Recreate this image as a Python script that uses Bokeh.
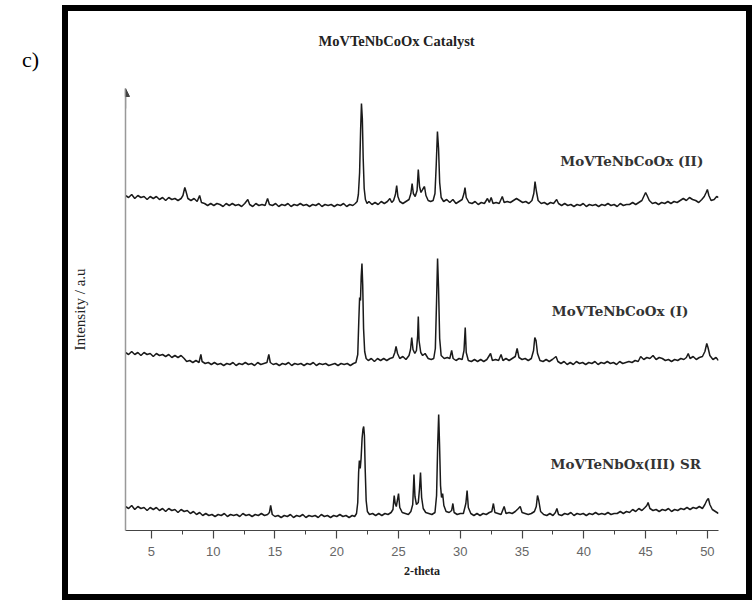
from bokeh.plotting import figure
from bokeh.models import (Label, Arrow, NormalHead, Title, Div,
                          SingleIntervalTicker, FixedTicker, Range1d)
from bokeh.layouts import row
from bokeh.embed import file_html
from bokeh.resources import INLINE

# ---------------- data (2-theta, intensity a.u.) ----------------
pattern_II = [(2.9,25),(3.15,23),(3.4,26),(3.65,22),(3.9,25),(4.15,23),(4.4,24),(4.65,21),(4.9,24),(5.15,22),
(5.4,24),(5.65,21),(5.9,23),(6.15,20),(6.4,23),(6.65,21),(6.9,22),(7.15,20),(7.4,22),(7.55,25),(7.7,33),(7.8,29),
(7.95,22),(8.2,20),(8.45,22),(8.7,19),(8.9,25),(9.05,18),(9.3,17),(9.55,15),(9.8,17),(10.05,15),(10.3,17),(10.55,16),
(10.8,14),(11.05,17),(11.3,15),(11.55,17),(11.8,15),(12.05,16),(12.3,14),(12.55,17),(12.8,21),(12.95,16),(13.2,14),
(13.45,17),(13.7,15),(13.95,16),(14.2,15),(14.4,22),(14.55,16),(14.8,15),(15.05,17),(15.3,14),(15.55,16),(15.8,15),
(16.05,17),(16.3,14),(16.55,16),(16.8,15),(17.05,17),(17.3,15),(17.55,16),(17.8,14),(18.05,16),(18.3,15),(18.55,17),
(18.8,14),(19.05,16),(19.3,15),(19.55,16),(19.8,14),(20.05,16),(20.3,15),(20.55,17),(20.8,14),(21.05,16),(21.3,15),
(21.5,17),(21.65,19),(21.75,26),(21.85,48),(21.93,90),(22.0,117),(22.07,102),(22.14,62),(22.22,32),(22.32,21),
(22.45,17),(22.6,19),(22.85,16),(23.1,18),(23.35,16),(23.6,19),(23.85,17),(24.1,19),(24.3,22),(24.45,18),(24.6,20),
(24.75,26),(24.85,35),(24.95,24),(25.1,19),(25.35,17),(25.6,19),(25.85,21),(26.0,27),(26.1,37),(26.2,27),(26.35,24),
(26.5,30),(26.6,51),(26.7,34),(26.82,28),(26.95,31),(27.1,34),(27.22,25),(27.4,20),(27.6,19),(27.8,20),(27.95,27),
(28.05,55),(28.15,89),(28.24,72),(28.33,38),(28.45,23),(28.65,19),(28.9,21),(29.15,18),(29.4,21),(29.65,17),(29.9,19),
(30.15,21),(30.3,27),(30.38,33),(30.48,23),(30.7,18),(30.95,17),(31.2,19),(31.45,16),(31.7,18),(31.95,17),(32.2,22),
(32.35,18),(32.5,23),(32.65,17),(32.9,18),(33.15,17),(33.4,24),(33.55,18),(33.8,19),(34.05,18),(34.3,20),(34.55,22),
(34.8,20),(35.05,18),(35.3,19),(35.55,17),(35.8,20),(35.95,27),(36.05,39),(36.15,30),(36.3,20),(36.55,17),(36.8,18),
(37.05,16),(37.3,18),(37.55,17),(37.8,21),(37.95,17),(38.2,15),(38.45,17),(38.7,15),(38.95,16),(39.2,14),(39.45,16),
(39.7,15),(39.95,17),(40.2,14),(40.45,16),(40.7,15),(40.95,16),(41.2,14),(41.45,16),(41.7,15),(41.95,17),(42.2,15),
(42.45,16),(42.7,14),(42.95,17),(43.2,15),(43.45,16),(43.7,16),(43.95,18),(44.2,16),(44.45,18),(44.7,20),(44.85,24),
(45.0,28),(45.12,25),(45.3,20),(45.55,17),(45.8,18),(46.05,16),(46.3,18),(46.55,17),(46.8,19),(47.05,17),(47.3,19),
(47.55,18),(47.8,20),(48.05,22),(48.3,20),(48.55,23),(48.8,21),(49.05,20),(49.3,18),(49.55,21),(49.75,24),(49.9,28),
(50.0,31),(50.12,25),(50.3,20),(50.55,21),(50.75,24),(50.9,23)]

pattern_I = [(2.9,28),(3.15,26),(3.4,29),(3.65,26),(3.9,28),(4.15,25),(4.4,28),(4.65,26),(4.9,27),(5.15,24),(5.4,27),
(5.65,25),(5.9,26),(6.15,24),(6.4,26),(6.65,23),(6.9,25),(7.15,23),(7.4,25),(7.65,22),(7.85,19),(8.1,20),(8.35,18),
(8.6,20),(8.85,18),(9.0,26),(9.1,19),(9.35,17),(9.6,18),(9.85,16),(10.1,18),(10.35,16),(10.6,17),(10.85,15),(11.1,17),
(11.35,16),(11.6,18),(11.85,15),(12.1,17),(12.35,16),(12.6,18),(12.85,16),(13.1,17),(13.35,15),(13.6,18),(13.85,16),
(14.1,17),(14.35,18),(14.5,26),(14.62,18),(14.85,16),(15.1,17),(15.35,15),(15.6,17),(15.85,16),(16.1,18),(16.35,15),
(16.6,17),(16.85,16),(17.1,17),(17.35,15),(17.6,17),(17.85,16),(18.1,18),(18.35,15),(18.6,17),(18.85,16),(19.1,17),
(19.35,15),(19.6,16),(19.85,17),(20.1,15),(20.35,17),(20.6,16),(20.85,17),(21.1,15),(21.35,17),(21.55,18),(21.7,26),
(21.78,58),(21.85,83),(21.92,80),(21.98,104),(22.04,117),(22.1,96),(22.17,52),(22.26,29),(22.38,22),(22.55,20),
(22.8,22),(23.05,19),(23.3,22),(23.55,20),(23.8,22),(24.05,20),(24.3,22),(24.55,23),(24.7,28),(24.8,34),(24.92,27),
(25.1,22),(25.35,24),(25.6,21),(25.85,25),(25.97,31),(26.07,43),(26.17,31),(26.32,27),(26.45,30),(26.55,45),(26.6,64),
(26.66,40),(26.8,28),(26.95,25),(27.15,27),(27.4,22),(27.65,21),(27.85,22),(27.98,32),(28.08,80),(28.16,122),
(28.24,92),(28.33,42),(28.45,25),(28.7,22),(28.95,23),(29.15,22),(29.3,30),(29.42,22),(29.65,20),(29.9,22),(30.15,21),
(30.3,30),(30.4,53),(30.48,28),(30.65,20),(30.9,19),(31.15,21),(31.4,19),(31.65,21),(31.9,19),(32.15,21),(32.45,27),
(32.6,20),(32.85,21),(33.1,20),(33.3,26),(33.45,20),(33.7,22),(33.95,20),(34.2,22),(34.45,24),(34.6,32),(34.75,23),
(35.0,21),(35.25,22),(35.5,20),(35.75,22),(35.93,30),(36.03,43),(36.13,40),(36.25,27),(36.45,20),(36.7,19),(36.95,21),
(37.2,19),(37.45,21),(37.75,24),(37.9,19),(38.15,17),(38.4,19),(38.65,16),(38.9,18),(39.15,16),(39.4,19),(39.65,17),
(39.9,18),(40.15,16),(40.4,18),(40.65,17),(40.9,19),(41.15,16),(41.4,18),(41.65,17),(41.9,19),(42.15,17),(42.4,18),
(42.65,16),(42.9,19),(43.15,17),(43.4,18),(43.65,19),(43.9,18),(44.15,20),(44.4,19),(44.6,24),(44.85,21),(45.1,23),
(45.35,22),(45.6,25),(45.85,21),(46.1,23),(46.35,22),(46.6,20),(46.85,21),(47.1,19),(47.35,21),(47.6,20),(47.85,22),
(48.1,21),(48.3,23),(48.45,27),(48.6,22),(48.85,24),(49.1,21),(49.35,23),(49.6,24),(49.8,29),(49.95,37),(50.05,33),
(50.2,25),(50.45,21),(50.7,23),(50.9,20)]

pattern_III = [(2.9,24),(3.15,22),(3.4,25),(3.65,21),(3.9,24),(4.15,22),(4.4,23),(4.65,20),(4.9,23),(5.15,21),(5.4,23),
(5.65,20),(5.9,22),(6.15,19),(6.4,22),(6.65,20),(6.9,21),(7.15,18),(7.4,21),(7.65,19),(7.9,20),(8.15,17),(8.4,19),
(8.65,16),(8.9,18),(9.15,15),(9.4,17),(9.65,15),(9.9,16),(10.15,14),(10.4,16),(10.65,15),(10.9,17),(11.15,14),
(11.4,16),(11.65,15),(11.9,16),(12.15,14),(12.4,17),(12.65,15),(12.9,16),(13.15,14),(13.4,16),(13.65,15),(13.9,17),
(14.15,15),(14.4,16),(14.55,18),(14.65,25),(14.78,16),(15.0,14),(15.25,15),(15.5,13),(15.75,15),(16.0,14),(16.25,16),
(16.5,13),(16.75,15),(17.0,14),(17.25,16),(17.5,13),(17.75,15),(18.0,14),(18.25,15),(18.5,13),(18.75,16),(19.0,14),
(19.25,15),(19.5,13),(19.75,15),(20.0,14),(20.25,16),(20.5,14),(20.75,15),(21.0,13),(21.25,15),(21.45,14),(21.6,17),
(21.7,28),(21.77,58),(21.83,70),(21.9,62),(21.97,72),(22.05,92),(22.12,101),(22.18,104),(22.24,95),(22.3,62),
(22.38,30),(22.48,19),(22.65,16),(22.9,17),(23.15,15),(23.4,17),(23.65,15),(23.9,17),(24.15,16),(24.4,18),(24.55,21),
(24.65,35),(24.73,27),(24.82,24),(24.92,31),(25.0,37),(25.1,23),(25.3,18),(25.55,17),(25.8,16),(26.0,19),(26.15,26),
(26.25,56),(26.33,34),(26.45,26),(26.6,28),(26.7,42),(26.78,58),(26.87,33),(27.0,22),(27.2,18),(27.45,17),(27.7,16),
(27.95,18),(28.08,35),(28.17,85),(28.25,116),(28.32,86),(28.4,45),(28.48,33),(28.57,37),(28.67,25),(28.85,19),
(29.1,18),(29.3,20),(29.4,27),(29.5,18),(29.75,16),(30.0,17),(30.25,17),(30.45,27),(30.55,40),(30.65,23),(30.85,17),
(31.1,15),(31.35,17),(31.6,15),(31.85,17),(32.1,16),(32.35,18),(32.55,19),(32.68,27),(32.8,18),(33.05,17),(33.3,16),
(33.55,24),(33.7,17),(33.95,18),(34.2,17),(34.45,19),(34.7,22),(34.85,24),(35.0,18),(35.25,17),(35.5,16),(35.75,17),
(36.0,19),(36.15,24),(36.25,35),(36.35,30),(36.5,19),(36.75,16),(37.0,15),(37.25,17),(37.5,15),(37.7,18),(37.82,22),
(37.95,16),(38.2,15),(38.45,17),(38.7,16),(38.95,18),(39.2,15),(39.45,17),(39.7,16),(39.95,17),(40.2,15),(40.45,17),
(40.7,16),(40.95,18),(41.2,16),(41.45,17),(41.7,16),(41.95,18),(42.2,16),(42.45,17),(42.7,17),(42.95,19),(43.2,17),
(43.45,19),(43.7,18),(43.95,21),(44.2,19),(44.45,22),(44.7,20),(44.95,23),(45.1,25),(45.2,28),(45.35,22),(45.6,20),
(45.85,21),(46.1,19),(46.35,21),(46.6,20),(46.85,22),(47.1,19),(47.35,21),(47.6,20),(47.85,22),(48.1,21),(48.35,23),
(48.6,21),(48.85,23),(49.1,22),(49.35,24),(49.6,22),(49.8,26),(49.95,30),(50.08,32),(50.2,26),(50.4,21),(50.65,19),
(50.9,17)]

series_names = ["MoVTeNbOx(III) SR", "MoVTeNbCoOx (I)", "MoVTeNbCoOx (II)"]
series_patterns = [pattern_III, pattern_I, pattern_II]
series_offsets = [0, 150, 310]
label_x = [37.3, 37.4, 38.1]
label_y = [67, 220, 370]

chart_title = "MoVTeNbCoOx Catalyst"
panel_letter = "c)"
x_title = "2-theta"
y_title = "Intensity / a.u"
x_ticks_interval = 5
x_limits = (2.9, 50.9)
y_limits = (0, 442)

# ---------------- figure ----------------
p = figure(frame_width=593, frame_height=442,
           min_border_left=57, min_border_right=28, min_border_top=77, min_border_bottom=64,
           x_range=Range1d(*x_limits), y_range=Range1d(*y_limits),
           output_backend="svg", toolbar_location=None, margin=0)
p.outline_line_color = None
p.grid.visible = False
p.background_fill_color = "white"
p.border_fill_color = "white"

# spacer keeps the title well above the frame, then the title itself
p.add_layout(Title(text=" ", text_font_size="10px", standoff=27), "above")
p.add_layout(Title(text=chart_title, align="left", offset=193, standoff=0,
                   text_font="Liberation Serif", text_font_style="bold",
                   text_font_size="14.5px", text_color="#222222"), "above")

# x axis
xa = p.xaxis[0]
xa.ticker = SingleIntervalTicker(interval=x_ticks_interval, num_minor_ticks=2)
xa.axis_line_color = "#444444"
xa.axis_line_width = 1.2
xa.major_tick_line_color = "#444444"
xa.major_tick_line_width = 1.2
xa.major_tick_in = 0
xa.major_tick_out = 8
xa.minor_tick_line_color = "#444444"
xa.minor_tick_in = 0
xa.minor_tick_out = 4
xa.major_label_standoff = 8
xa.major_label_text_font = "Liberation Sans"
xa.major_label_text_font_size = "13px"
xa.major_label_text_color = "#666666"
xa.axis_label = x_title
xa.axis_label_text_font = "Liberation Serif"
xa.axis_label_text_font_style = "bold"
xa.axis_label_text_font_size = "12px"
xa.axis_label_text_color = "#222222"
xa.axis_label_standoff = 5

# y axis
ya = p.yaxis[0]
ya.ticker = FixedTicker(ticks=[])
ya.major_label_text_font_size = "0px"
ya.major_tick_line_color = None
ya.minor_tick_line_color = None
ya.axis_line_color = "#999999"
ya.axis_line_width = 1.5
ya.axis_label = y_title
ya.axis_label_text_font = "Liberation Serif"
ya.axis_label_text_font_style = "normal"
ya.axis_label_text_font_size = "15px"
ya.axis_label_text_color = "#222222"
ya.axis_label_standoff = 38

p.add_layout(Arrow(end=NormalHead(size=8, fill_color="#444444", line_color="#444444"),
                   x_start=x_limits[0], y_start=y_limits[1] - 20,
                   x_end=x_limits[0], y_end=y_limits[1],
                   line_color="#999999", line_width=1.5))

# traces
for pat, off, name, lx, ly in zip(series_patterns, series_offsets, series_names, label_x, label_y):
    xs = [pt[0] for pt in pat]
    ys = [pt[1] + off for pt in pat]
    p.line(xs, ys, line_color="#1a1a1a", line_width=1.5)
    p.add_layout(Label(x=lx, y=ly, text=name, text_font="DejaVu Serif",
                       text_font_style="bold", text_font_size="13.5px",
                       text_color="#333333", text_baseline="middle"))

letter = Div(text=("<div style=\"margin-left:22px;margin-top:47px;font-family:'Liberation Serif';"
                   "font-size:22px;line-height:26px;color:#000\">" + panel_letter + "</div>"),
             width=62, height=600, margin=0)

framed = row(p, styles={"border": "6px solid black"}, margin=(5, 0, 0, 0))
layout = row(letter, framed, margin=0)
open("out.html", "w").write(file_html(layout, INLINE))
